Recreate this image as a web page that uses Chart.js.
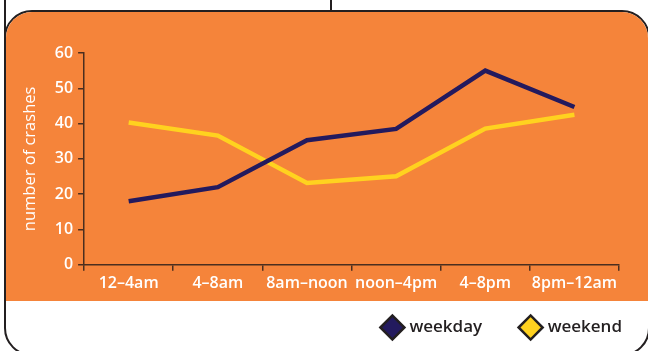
<!DOCTYPE html>
<html>
<head>
<meta charset="utf-8">
<script src="https://cdn.jsdelivr.net/npm/chart.js@4/dist/chart.umd.min.js"></script>
<style>
  html, body { margin: 0; padding: 0; background: #fff; overflow: hidden; }
  body { width: 648px; height: 351px; position: relative; }
  #topbox {
    position: absolute; left: 4px; top: -4px; width: 328px; height: 50px;
    box-sizing: border-box; border: 2px solid #231f20; z-index: 1;
  }
  #box {
    position: absolute; left: 4px; top: 10px; width: 646px; height: 346px;
    box-sizing: border-box; border: 2.5px solid #231f20; border-radius: 28px;
    overflow: hidden; background: #fff; z-index: 2;
  }
  #myChart { position: absolute; left: -6.5px; top: -12.5px; }
</style>
</head>
<body>
<div id="topbox"></div>
<div id="box"><canvas id="myChart" width="648" height="351"></canvas></div>
<script>
const periods = ["12–4am", "4–8am", "8am–noon", "noon–4pm", "4–8pm", "8pm–12am"];
const weekday = [18, 22, 35.3, 38.5, 55, 44.7];
const weekend = [40.3, 36.6, 23.2, 25.1, 38.6, 42.5];

const ORANGE = "#F5843A";
const AXIS = "#4a2e1f";

// orange panel behind the plot, legend sits on white below it
const panel = {
  id: "panel",
  beforeDraw(chart) {
    const ctx = chart.ctx;
    ctx.save();
    ctx.fillStyle = ORANGE;
    ctx.fillRect(0, 0, chart.width, 301);
    ctx.restore();
  },
  afterLayout(chart) {
    // nudge legend onto the white strip
    const lg = chart.legend;
    const dx = 43, dy = -17;
    lg.left += dx; lg.right += dx;
    lg.top += dy; lg.bottom += dy;
  },
};

const ctx = document.getElementById("myChart").getContext("2d");
new Chart(ctx, {
  type: "line",
  data: {
    labels: periods,
    datasets: [
      {
        label: "weekday",
        data: weekday,
        borderColor: "#231a5e",
        backgroundColor: "#231a5e",
        borderWidth: 4.5,
        pointRadius: 0,
        tension: 0,
      },
      {
        label: "weekend",
        data: weekend,
        borderColor: "#ffd21f",
        backgroundColor: "#ffd21f",
        borderWidth: 4.5,
        pointRadius: 0,
        tension: 0,
      },
    ],
  },
  options: {
    responsive: false,
    animation: false,
    layout: { padding: { left: 14, top: 53, right: 29, bottom: -12 } },
    plugins: {
      tooltip: { enabled: false },
      legend: {
        position: "bottom",
        align: "end",
        labels: {
          usePointStyle: true,
          pointStyle: "rectRot",
          color: "#231f20",
          padding: 40,
          font: { family: "'Open Sans'", size: 17, weight: "600" },
          generateLabels(chart) {
            return chart.data.datasets.map((ds, i) => ({
              text: ds.label,
              fillStyle: ds.backgroundColor,
              strokeStyle: "#231f20",
              lineWidth: 2.5,
              pointStyle: "rectRot",
              datasetIndex: i,
              fontColor: "#231f20",
            }));
          },
        },
      },
    },
    scales: {
      x: {
        offset: true,
        grid: {
          offset: true,
          drawOnChartArea: false,
          color: AXIS,
          lineWidth: 1.5,
          tickLength: 6,
        },
        border: { color: AXIS, width: 1.5 },
        ticks: {
          color: "#fff",
          padding: 3,
          maxRotation: 0,
          minRotation: 0,
          autoSkip: false,
          font: { family: "'Open Sans'", size: 16, weight: "600" },
        },
      },
      y: {
        min: 0,
        max: 60,
        grid: {
          drawOnChartArea: false,
          color: AXIS,
          lineWidth: 1.5,
          tickLength: 6,
        },
        border: { color: AXIS, width: 1.5 },
        ticks: {
          stepSize: 10,
          color: "#fff",
          padding: 5,
          font: { family: "'Open Sans'", size: 16, weight: "600" },
        },
        title: {
          display: true,
          text: "number of crashes",
          color: "#fff",
          padding: { top: 6, bottom: 10 },
          font: { family: "'Open Sans'", size: 16.5, weight: "500" },
        },
      },
    },
  },
  plugins: [panel],
});
</script>
</body>
</html>
